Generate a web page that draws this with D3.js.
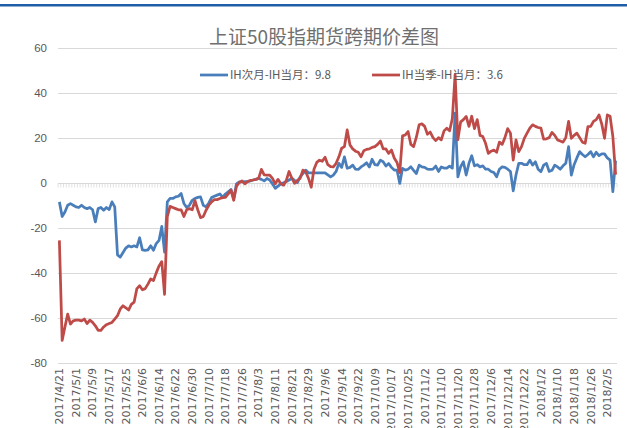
<!DOCTYPE html>
<html>
<head>
<meta charset="utf-8">
<script src="https://cdn.jsdelivr.net/npm/d3@7"></script>
<style>
  body { margin: 0; background: #fff; }
  text { font-family: "Liberation Sans", Arial, sans-serif; }
  .cjk { font-family: "Noto Sans CJK SC", sans-serif; }
  .xlab { font-family: "DejaVu Sans", sans-serif; }
</style>
</head>
<body>
<svg id="chart" width="627" height="428"></svg>
<script>
/* 上证50股指期货跨期价差图 */

const TITLE = '上证50股指期货跨期价差图';
const SERIES_NAMES = ['IH次月-IH当月：9.8', 'IH当季-IH当月：3.6'];

// x labels, one every 6 trading days
const TICK_LABELS = [
    '2017/4/21', '2017/5/1', '2017/5/9', '2017/5/17', '2017/5/25', '2017/6/6',
    '2017/6/14', '2017/6/22', '2017/6/30', '2017/7/10', '2017/7/18', '2017/7/26',
    '2017/8/3', '2017/8/11', '2017/8/21', '2017/8/29', '2017/9/6', '2017/9/14',
    '2017/9/22', '2017/10/9', '2017/10/17', '2017/10/25', '2017/11/2', '2017/11/10',
    '2017/11/20', '2017/11/28', '2017/12/6', '2017/12/14', '2017/12/22', '2018/1/2',
    '2018/1/10', '2018/1/18', '2018/1/26', '2018/2/5'
];
const TICK_EVERY = 6;
const Y_TICKS = [60, 40, 20, 0, -20, -40, -60, -80];

// IH次月-IH当月
const NEXT_MONTH = [
    -8.5, -15, -13, -10, -9.3, -10, -10.7, -11, -10, -11,
    -11.5, -11, -12, -17.4, -11.5, -11, -12.2, -11, -11.9, -8.5,
    -10.7, -32, -33, -31, -29, -28, -28.5, -28, -28.5, -24.4,
    -29.8, -30, -29.8, -28, -30, -27, -25.6, -19.4, -30.8, -8.5,
    -7, -7, -6.3, -6, -4.8, -9.2, -11, -10, -7.8, -7,
    -6.5, -6.3, -10, -10.7, -9, -6.6, -6, -5.5, -5, -6.5,
    -5, -4, -3, -7, -0.5, 0.4, 0.4, 0.5, 0.5, 0.8,
    1.2, 1.5, 1.9, 1.5, 0.8, 1.9, 1.2, -0.5, -2.5, -1.5,
    -0.5, 0, 0.5, 1.2, 1.9, 1, 0, 2.6, 4, 5.6,
    4.4, 4.4, 4.4, 4.4, 4.4, 4.4, 4.4, 3.5, 2.6, 3.4,
    5, 8.6, 6.8, 11.5, 6.4, 6.8, 7.8, 6, 5.9, 7,
    7.8, 8.9, 7, 10.4, 8, 7.8, 10, 9.3, 7.4, 8.5,
    6.8, 5.6, 5.6, -0.3, 6.4, 5.6, 6, 7.1, 5.5, 4.1,
    7.8, 7, 6.8, 6, 5.9, 6, 7.4, 5, 7, 6.5,
    6.5, 7.4, 6.5, 30.9, 2.6, 7.1, 9.3, 3.4, 8.6, 12,
    7.5, 8, 7, 7.5, 6, 6, 5, 4.5, 2.6, 6,
    7, 6.8, 6, 5, -3.6, 3.4, 8.6, 8.6, 8, 8,
    10, 7.8, 9.3, 6, 4.9, 7.8, 8.6, 5, 5.5, 7.8,
    7, 6, 7.5, 8.6, 16, 3.4, 8, 11, 13.8, 12.5,
    11.5, 12.5, 13.8, 11.5, 13.5, 12, 12.8, 12.8, 11, 10,
    -4, 9.8
];

// IH当季-IH当月
const QUARTER = [
    -25.6, -70, -64, -58.3, -62.7, -61.3, -61, -61, -61.3, -60.5,
    -62.5, -61, -62, -63.5, -65.5, -65.5, -64, -63, -62.5, -62,
    -60.5, -59, -56, -54.6, -55.5, -56.5, -54, -53, -47, -45.7,
    -47.5, -47, -45, -42.7, -43.4, -40, -37, -35, -49.5, -15,
    -10.5, -11, -11.5, -12, -12, -15, -12, -11.5, -12, -8,
    -12, -15.5, -15, -12.2, -10, -8.5, -7.5, -7.5, -7, -6.6,
    -6.5, -5, -3.3, -7.8, -1.5, 0, 0.8, -0.5, 0.5, 1,
    1.2, 1.5, 1.9, 5.9, 3.5, 3.4, 3.4, 1.9, -0.5, 1.5,
    -0.5, -1.1, 1, 5, 2, -0.3, 1, 1.9, 5.6, 4.9,
    2, -2, 6, 9, 10, 9.5, 11.3, 8, 7.1, 7,
    8.6, 11.5, 15.3, 16, 23.4, 16.8, 15, 14, 13.5, 11.5,
    14.2, 14.8, 15, 15.7, 16, 17, 18.5, 15, 15, 13,
    14.5, 11, 9, 4.5, 20.8, 21.2, 22.7, 17, 16, 20.2,
    25.7, 26.1, 25, 21.5, 22.5, 20, 18.7, 20, 19, 23,
    24.2, 23, 28.5, 48, 19, 27, 28, 29.4, 25, 29.5,
    24, 28, 21, 20.5, 17.5, 13, 14, 14.5, 13.5, 18,
    17, 20, 24, 22, 10, 19, 13.8, 16, 19.7, 22,
    24.2, 25.7, 25, 24.5, 24.2, 19.3, 19.5, 20, 22.3, 21,
    19, 18.5, 18, 20, 27.2, 19.7, 21, 22, 20, 18,
    17.5, 24.9, 25, 27.2, 28, 30.1, 26, 19.7, 30.1, 29.5,
    20.5, 3.6
];

const COLORS = ['#4a7ebb', '#be4b48'];
const TEXT_COLOR = '#595959';
const GRID_COLOR = '#d9d9d9';

const svg = d3.select('#chart');
const N = NEXT_MONTH.length;
const idx = d3.range(N);

const plot = { left: 58, right: 617, top: 47.5, bottom: 363 };

const x = d3.scalePoint().domain(idx).range([plot.left, plot.right]).padding(0.5);
const xBand = d3.scaleBand().domain(idx).range([plot.left, plot.right]);
const y = d3.scaleLinear().domain([-80, 60]).range([plot.bottom, plot.top]);

// top rule
svg.append('rect')
    .attr('x', 0).attr('y', 4)
    .attr('width', 627).attr('height', 2.5)
    .attr('fill', '#1f5ea6');

// title
svg.append('text')
    .attr('class', 'cjk')
    .attr('x', 324).attr('y', 44)
    .attr('text-anchor', 'middle')
    .attr('font-size', 19)
    .attr('fill', '#6f6f6f')
    .text(TITLE);

// gridlines (0 is drawn as the axis)
svg.append('g')
    .selectAll('line')
    .data(Y_TICKS.filter(v => v !== 0))
    .join('line')
    .attr('x1', plot.left).attr('x2', plot.right)
    .attr('y1', d => Math.round(y(d)) + 0.5)
    .attr('y2', d => Math.round(y(d)) + 0.5)
    .attr('stroke', GRID_COLOR)
    .attr('stroke-width', 1);

// y labels
svg.append('g')
    .selectAll('text')
    .data(Y_TICKS)
    .join('text')
    .attr('x', 47)
    .attr('y', d => y(d))
    .attr('dy', '0.35em')
    .attr('text-anchor', 'end')
    .attr('font-size', 11.5)
    .attr('fill', TEXT_COLOR)
    .text(d => d);

// category axis sits on 0, ticks between categories
const y0 = Math.round(y(0)) + 0.5;
const axis = svg.append('g');
axis.append('line')
    .attr('x1', plot.left).attr('x2', plot.right)
    .attr('y1', y0).attr('y2', y0)
    .attr('stroke', GRID_COLOR);
axis.selectAll('.tick')
    .data(idx.concat([N]))
    .join('line')
    .attr('class', 'tick')
    .attr('x1', d => (d < N ? xBand(d) : plot.right))
    .attr('x2', d => (d < N ? xBand(d) : plot.right))
    .attr('y1', y0).attr('y2', y0 + 4)
    .attr('stroke', GRID_COLOR)
    .attr('stroke-width', 0.8);

// x labels, rotated, below the plot
svg.append('g')
    .selectAll('text')
    .data(TICK_LABELS)
    .join('text')
    .attr('class', 'xlab')
    .attr('transform', (d, i) => `translate(${x(i * TICK_EVERY)},${plot.bottom + 5}) rotate(-90)`)
    .attr('text-anchor', 'end')
    .attr('dy', '0.35em')
    .attr('font-size', 11)
    .attr('fill', TEXT_COLOR)
    .text(d => d);

// lines
const line = d3.line()
    .x((d, i) => x(i))
    .y(d => y(d));

[NEXT_MONTH, QUARTER].forEach((series, k) => {
    svg.append('path')
        .datum(series)
        .attr('fill', 'none')
        .attr('stroke', COLORS[k])
        .attr('stroke-width', 2.75)
        .attr('stroke-linejoin', 'round')
        .attr('d', line);
});

// legend
const legendPos = [200, 372];
const legend = svg.append('g');
SERIES_NAMES.forEach((name, k) => {
    legend.append('line')
        .attr('x1', legendPos[k]).attr('x2', legendPos[k] + 28)
        .attr('y1', 75).attr('y2', 75)
        .attr('stroke', COLORS[k])
        .attr('stroke-width', 2.75);
    legend.append('text')
        .attr('class', 'cjk')
        .attr('x', legendPos[k] + 30)
        .attr('y', 75)
        .attr('dy', '0.35em')
        .attr('font-size', 11.5)
        .attr('fill', TEXT_COLOR)
        .text(name);
});
</script>
</body>
</html>
